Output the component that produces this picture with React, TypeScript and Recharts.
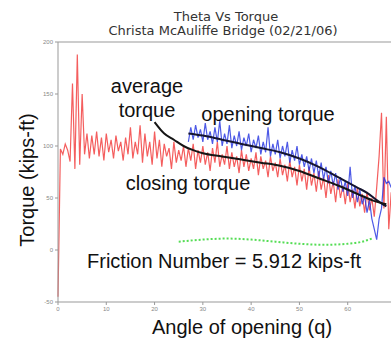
import { LineChart, Line, XAxis, YAxis, ReferenceLine } from "recharts";

// closing torque (red), sampled every half degree
const closingAngle = [
  0, 0.5, 1, 1.5, 2, 2.5, 3, 3.5, 4, 4.5, 5, 5.5, 6, 6.5, 7, 7.5, 8, 8.5, 9, 9.5,
  10, 10.5, 11, 11.5, 12, 12.5, 13, 13.5, 14, 14.5, 15, 15.5, 16, 16.5, 17, 17.5, 18, 18.5, 19, 19.5,
  20, 20.5, 21, 21.5, 22, 22.5, 23, 23.5, 24, 24.5, 25, 25.5, 26, 26.5, 27, 27.5, 28, 28.5, 29, 29.5,
  30, 30.5, 31, 31.5, 32, 32.5, 33, 33.5, 34, 34.5, 35, 35.5, 36, 36.5, 37, 37.5, 38, 38.5, 39, 39.5,
  40, 40.5, 41, 41.5, 42, 42.5, 43, 43.5, 44, 44.5, 45, 45.5, 46, 46.5, 47, 47.5, 48, 48.5, 49, 49.5,
  50, 50.5, 51, 51.5, 52, 52.5, 53, 53.5, 54, 54.5, 55, 55.5, 56, 56.5, 57, 57.5, 58, 58.5, 59, 59.5,
  60, 60.5, 61, 61.5, 62, 62.5, 63, 63.5, 64, 64.5, 65, 65.5, 66, 66.5, 67, 67.5, 68, 68.5, 69, 69.5,
];
const closingTorque = [
  -45, 97, 92, 102, 96, 85, 160, 78, 188, 82, 150, 92, 112, 88, 110, 92, 114, 90, 108, 86,
  112, 94, 106, 88, 110, 95, 104, 86, 108, 92, 118, 88, 104, 92, 120, 84, 112, 90, 104, 82,
  114, 88, 106, 80, 102, 90, 98, 78, 104, 84, 96, 86, 100, 80, 98, 86, 102, 78, 96, 84,
  100, 82, 94, 76, 98, 84, 104, 80, 92, 82, 100, 78, 94, 80, 90, 74, 96, 80, 92, 76,
  88, 78, 94, 72, 90, 78, 86, 70, 90, 76, 84, 70, 88, 72, 82, 66, 86, 70, 80, 62,
  82, 66, 78, 58, 80, 62, 74, 56, 76, 58, 70, 50, 72, 54, 66, 46, 68, 50, 62, 44,
  64, 46, 58, 40, 60, 42, 54, 36, 56, 38, 50, 32, 60, 90, 132, 40, 128, 20, 55, 60,
];

// opening torque (blue)
const openingAngle = [
  27, 27.5, 28, 28.5, 29, 29.5, 30, 30.5, 31, 31.5, 32, 32.5, 33, 33.5, 34, 34.5, 35, 35.5, 36, 36.5,
  37, 37.5, 38, 38.5, 39, 39.5, 40, 40.5, 41, 41.5, 42, 42.5, 43, 43.5, 44, 44.5, 45, 45.5, 46, 46.5,
  47, 47.5, 48, 48.5, 49, 49.5, 50, 50.5, 51, 51.5, 52, 52.5, 53, 53.5, 54, 54.5, 55, 55.5, 56, 56.5,
  57, 57.5, 58, 58.5, 59, 59.5, 60, 60.5, 61, 61.5, 62, 62.5, 63, 63.5, 64, 64.5, 65, 65.5, 66, 66.5,
  67, 67.5, 68, 68.5, 69,
];
const openingTorque = [
  104, 118, 106, 120, 108, 116, 104, 122, 106, 114, 102, 118, 104, 124, 100, 112, 102, 120, 98, 110,
  100, 114, 96, 108, 100, 112, 94, 106, 98, 110, 92, 104, 94, 118, 90, 102, 92, 106, 88, 100,
  90, 104, 84, 96, 86, 100, 82, 92, 80, 90, 76, 88, 74, 86, 70, 84, 68, 80, 64, 76,
  62, 74, 58, 70, 56, 66, 52, 80, 50, 62, 46, 58, 44, 52, 36, 48, 30, 20, 10, 30,
  40, 70, 64, 66, 60,
];

// average torque curves (black)
const avgOpenAngle = [27, 30, 34, 38, 42, 46, 50, 54, 58, 62, 64, 66, 68];
const avgOpenTorque = [112, 110, 106, 102, 98, 94, 88, 80, 70, 60, 55, 48, 42];
const avgCloseAngle = [20, 22, 24, 26, 28, 30, 34, 38, 42, 46, 50, 54, 58, 62, 65, 68];
const avgCloseTorque = [123, 112, 106, 100, 96, 93, 90, 87, 84, 81, 76, 69, 62, 54, 48, 44];

// friction number (green dotted)
const frictionAngle = [25, 30, 35, 40, 45, 50, 55, 60, 63, 65];
const frictionTorque = [8, 10, 11, 10, 8, 6, 5, 6, 8, 11];

const xTicks = [0, 10, 20, 30, 40, 50, 60];
const yTicks = [-50, 0, 50, 100, 150, 200];

const toPoints = (a: number[], v: number[]) => a.map((x, i) => ({ a: x, v: v[i] }));

const font = "'Liberation Sans', Arial, sans-serif";

function Note({ x, y, size, text, color = "#111", family = font }: { x: number; y: number; size: number; text: string; color?: string; family?: string }) {
  return (
    <div
      style={{
        position: "absolute",
        left: x,
        top: y,
        transform: "translate(-50%, -50%)",
        fontFamily: family,
        fontSize: size,
        color,
        whiteSpace: "nowrap",
        lineHeight: 1,
      }}
    >
      {text}
    </div>
  );
}

export default function App() {
  const tickStyle = { fontSize: 6, fill: "#888", fontFamily: font };
  return (
    <div style={{ position: "absolute", left: 0, top: 0, width: 391, height: 341, overflow: "hidden", background: "#fff" }}>
      <LineChart width={400} height={341} margin={{ top: 42, right: 4, bottom: 0, left: 0 }}>
        <XAxis
          dataKey="a"
          type="number"
          domain={[0, 70]}
          ticks={xTicks}
          height={39}
          tick={tickStyle}
          tickSize={3}
          stroke="#999"
          allowDuplicatedCategory={false}
        />
        <YAxis
          type="number"
          domain={[-50, 200]}
          ticks={yTicks}
          width={58}
          tick={tickStyle}
          tickSize={3}
          stroke="#999"
        />
        <ReferenceLine y={200} stroke="#999" />
        <Line data={toPoints(closingAngle, closingTorque)} dataKey="v" stroke="#f02828" strokeOpacity={0.75} strokeWidth={1.2} dot={false} isAnimationActive={false} />
        <Line data={toPoints(openingAngle, openingTorque)} dataKey="v" stroke="#2030e0" strokeOpacity={0.8} strokeWidth={1.2} dot={false} isAnimationActive={false} />
        <Line data={toPoints(avgOpenAngle, avgOpenTorque)} dataKey="v" type="monotone" stroke="#151530" strokeWidth={2} dot={false} isAnimationActive={false} />
        <Line data={toPoints(avgCloseAngle, avgCloseTorque)} dataKey="v" type="monotone" stroke="#151515" strokeWidth={2} dot={false} isAnimationActive={false} />
        <Line data={toPoints(frictionAngle, frictionTorque)} dataKey="v" type="monotone" stroke="#55dd55" strokeWidth={2} strokeDasharray="2 2" dot={false} isAnimationActive={false} />
      </LineChart>

      <Note x={226} y={16} size={13} text="Theta Vs Torque" color="#333" family="'DejaVu Sans', sans-serif" />
      <Note x={223} y={30} size={13} text="Christa McAuliffe Bridge (02/21/06)" color="#333" family="'DejaVu Sans', sans-serif" />

      <Note x={147} y={86} size={20} text="average" />
      <Note x={147} y={110} size={20} text="torque" />
      <Note x={268} y={114} size={20} text="opening torque" />
      <Note x={188} y={183} size={20} text="closing torque" />
      <Note x={224} y={261} size={20} text="Friction Number = 5.912 kips-ft" />
      <Note x={242} y={327} size={20} text="Angle of opening (q)" />
      <div
        style={{
          position: "absolute",
          left: 27,
          top: 180,
          transform: "translate(-50%, -50%) rotate(-90deg)",
          fontFamily: font,
          fontSize: 20,
          color: "#111",
          whiteSpace: "nowrap",
          lineHeight: 1,
        }}
      >
        Torque (kips-ft)
      </div>
    </div>
  );
}
